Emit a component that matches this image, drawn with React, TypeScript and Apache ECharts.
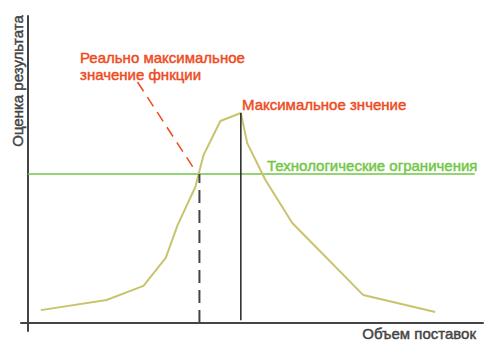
import React, { useEffect, useRef } from "react";
import * as echarts from "echarts";

// Curve: supply volume (x) vs result estimate (y), arbitrary units
const curveX = [2.85, 17.3, 25.4, 30.3, 32.9, 36.8, 38.6, 42.3, 46.8, 48.2, 52.2, 58.1, 73.7, 89.5];
const curveY = [4.2, 7.5, 12.1, 21.2, 31.9, 44.3, 54.7, 65.8, 68.4, 58.6, 46.6, 32.6, 9.1, 3.6];

const techLimitY = 48.5;
const techLimitXEnd = 98.2;
const realMaxX = 37.7;
const maxX = 46.8;
const maxY = 68.4;
const pointerStart = [24.1, 78.5];
const pointerEnd = [36.4, 50.5];

const labels = {
  yTitle: "Оценка результата",
  xTitle: "Объем поставок",
  realMax: "Реально максимальное\nзначение фнкции",
  max: "Максимальное знчение",
  tech: "Технологические ограничения",
};

const FONT = "'Liberation Sans', Arial, sans-serif";

function textStyle(text: string, fill: string, extra: Record<string, unknown> = {}) {
  return {
    text,
    font: `15px ${FONT}`,
    fill,
    stroke: fill,
    lineWidth: 0.45,
    ...extra,
  };
}

export default function App() {
  const ref = useRef<HTMLDivElement>(null);
  useEffect(() => {
    if (!ref.current) return;
    const chart = echarts.init(ref.current, undefined, { renderer: "svg" });
    const curve = curveX.map((x, i) => [x, curveY[i]]);
    chart.setOption({
      animation: false,
      grid: { left: 21, right: 12, top: 16, bottom: 28 },
      xAxis: {
        type: "value",
        min: -1.5,
        max: 100,
        axisLine: { show: true, onZero: true, lineStyle: { color: "#444", width: 2 } },
        axisTick: { show: false },
        axisLabel: { show: false },
        splitLine: { show: false },
      },
      yAxis: {
        type: "value",
        min: -2.6,
        max: 100,
        axisLine: { show: true, onZero: true, lineStyle: { color: "#444", width: 2 } },
        axisTick: { show: false },
        axisLabel: { show: false },
        splitLine: { show: false },
      },
      series: [
        {
          type: "line",
          data: curve,
          symbol: "none",
          lineStyle: { color: "#c8c46e", width: 2 },
          z: 3,
        },
        {
          type: "line",
          data: [[0, techLimitY], [techLimitXEnd, techLimitY]],
          symbol: "none",
          lineStyle: { color: "#72c646", width: 1.5 },
          z: 2,
        },
        {
          type: "line",
          data: [[realMaxX, 0], [realMaxX, techLimitY]],
          symbol: "none",
          lineStyle: { color: "#444", width: 2, type: [13, 7] },
          z: 4,
        },
        {
          type: "line",
          data: [[maxX, 0.9], [maxX, maxY]],
          symbol: "none",
          lineStyle: { color: "#222", width: 1.5 },
          z: 4,
        },
        {
          type: "line",
          data: [pointerStart, pointerEnd],
          symbol: "none",
          lineStyle: { color: "#ee4a1c", width: 1.5, type: [11, 7] },
          z: 4,
        },
      ],
      graphic: [
        {
          type: "text",
          x: 17,
          y: 81,
          rotation: Math.PI / 2,
          style: textStyle(labels.yTitle, "#444", { align: "center", verticalAlign: "middle" }),
        },
        {
          type: "text",
          x: 476,
          y: 333,
          style: textStyle(labels.xTitle, "#444", { align: "right", verticalAlign: "middle" }),
        },
        {
          type: "text",
          x: 80,
          y: 49,
          style: textStyle(labels.realMax, "#ee4a1c", { lineHeight: 17, align: "left", verticalAlign: "top" }),
        },
        {
          type: "text",
          x: 242,
          y: 104,
          style: textStyle(labels.max, "#ee4a1c", { align: "left", verticalAlign: "middle" }),
        },
        {
          type: "text",
          x: 267,
          y: 165,
          style: textStyle(labels.tech, "#72c646", { align: "left", verticalAlign: "middle" }),
        },
      ],
    });
    return () => chart.dispose();
  }, []);
  return <div ref={ref} style={{ width: 495, height: 359, position: "absolute", left: 0, top: 0 }} />;
}
